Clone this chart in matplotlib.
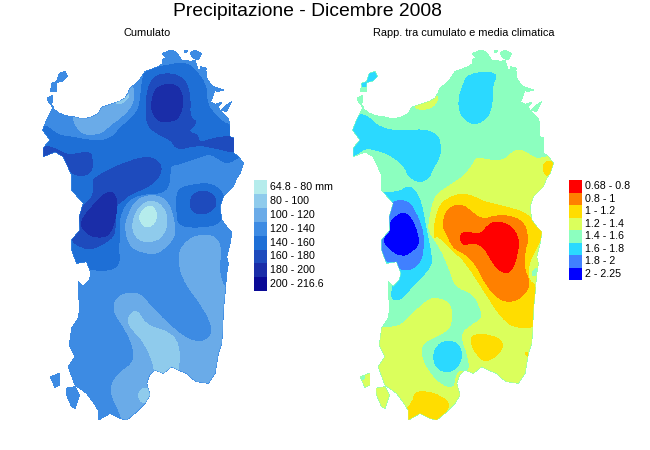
# -*- coding: utf-8 -*-
import matplotlib
matplotlib.use("Agg")
import matplotlib.pyplot as plt
from matplotlib.patches import PathPatch, Rectangle
from matplotlib.path import Path

plt.rcParams['font.family'] = ['Liberation Sans', 'DejaVu Sans']

# map outlines, in map units (y grows southwards)
coast = [(65,170),(75,180),(87,189),(100,195),(115,199),(130,200),(150,205),(170,205),(190,199),(205,190),(215,172),
         (250,160),(270,153),(285,145),(295,128),(300,115),(325,95),(345,65),(385,50),(400,40),(397,28),(408,25),
         (397,10),(425,0),(438,6),(445,15),(455,30),(470,30),(482,36),(495,30),(505,60),(518,58),(530,65),(528,80),
         (540,100),(548,108),(555,120),(550,135),(545,150),(525,155),(545,158),(560,165),(570,182),(580,190),(595,205),
         (600,230),(600,260),(612,265),(612,310),(625,320),(640,340),(630,370),(620,385),(610,410),(595,425),(580,440),
         (570,470),(575,510),(590,530),(605,545),(605,550),(600,580),(590,620),(595,640),(590,670),(585,730),(580,780),
         (578,840),(575,880),(565,910),(560,940),(555,970),(535,1000),(515,997),(500,995),(485,985),(470,970),(445,960),
         (425,950),(400,970),(375,960),(358,975),(350,1000),(360,1035),(345,1060),(320,1085),(290,1110),(270,1105),
         (240,1090),(205,1110),(205,1080),(185,1050),(170,1030),(135,1005),(115,950),(135,920),(118,885),(125,835),
         (145,805),(150,770),(145,735),(145,695),(160,710),(178,690),(183,670),(170,635),(140,640),(125,600),(125,570),
         (150,540),(148,500),(160,460),(125,420),(125,375),(100,320),(75,305),(60,312),(40,320),(40,295),(60,270),(38,240),
         (50,210),(70,170),(58,160),(52,145),(68,135)]
islands = [
    [(65,100),(80,95),(88,70),(105,65),(112,80),(100,92),(80,98),(78,125),(62,125)],
    [(480,10),(495,0),(515,10),(505,30),(490,25)],
    [(462,0),(472,0),(470,8),(463,8)],
    [(510,50),(530,55),(520,70)],
    [(550,110),(580,120),(560,125)],
    [(520,155),(545,150),(535,160)],
    [(560,160),(575,158),(565,170)],
    [(590,165),(605,155),(590,185),(575,180)],
    [(60,980),(90,970),(90,1005),(75,1012),(65,990)],
    [(108,1015),(135,1010),(148,1035),(135,1075),(125,1070),(110,1035)],
]

# Cumulato contours, drawn in this order over the 120-140 base
cum_140_main = [(0,640),(120,640),(190,662),(250,660),(270,635),(265,600),(270,540),(265,510),(290,450),(340,430),
                (400,430),(420,400),(420,345),(440,345),(510,320),(545,310),(590,345),(625,320),(700,300),(700,235),
                (595,230),(555,195),(530,160),(530,110),(505,70),(470,35),(400,48),(345,60),(335,100),(330,170),
                (310,200),(270,235),(245,265),(200,275),(130,262),(80,255),(50,225),(0,230)]
cum_140_east = [(440,420),(480,405),(550,398),(590,445),(575,520),(520,532),(445,530),(440,480)]
cum_160_north = [(370,80),(415,68),(465,85),(482,140),(478,205),(505,215),(470,245),(505,255),(505,280),(550,265),
                 (600,258),(640,265),(640,315),(540,290),(500,285),(440,300),(425,270),(380,250),(350,225),
                 (348,170),(352,120)]
cum_160_nw = [(30,330),(30,295),(60,288),(100,310),(120,315),(175,305),(188,320),(185,375),(125,378),(100,320),(75,305)]
cum_160_band = [(190,380),(340,315),(390,335),(395,365),(378,392),(345,415),(300,432),(280,450),(252,470),(258,545),
                (240,570),(190,597),(158,595),(120,570),(140,540),(140,505),(160,465),(190,440),(190,410)]
cum_160_east = [(525,420),(558,440),(558,475),(510,498),(478,475),(485,432)]
cum_180_north = [(365,150),(380,108),(440,100),(462,145),(450,200),(425,215),(385,215),(365,185)]
cum_180_sw = [(150,515),(190,465),(235,420),(262,440),(258,505),(240,550),(220,562),(185,560),(160,540)]
cum_100_nw = [(125,195),(140,235),(165,255),(215,250),(240,225),(270,205),(305,170),(315,125),(300,100),(280,130),
              (215,160),(170,195)]
cum_80_nw = [(255,160),(285,145),(300,130),(290,150),(270,162)]
cum_100_mid = [(285,540),(290,505),(318,448),(372,432),(415,455),(432,510),(436,555),(414,585),(380,612),(338,608),
               (300,590)]
cum_80_mid = [(306,515),(332,462),(372,450),(406,478),(412,522),(400,555),(376,574),(338,576),(312,555)]
cum_64_mid = [(328,490),(362,462),(382,490),(375,520),(350,535),(330,515)]
cum_100_south = [(445,640),(450,595),(490,558),(545,553),(575,585),(565,670),(590,730),(700,730),(700,1150),(280,1150),
                 (275,1095),(235,1020),(265,970),(305,945),(316,910),(290,840),(245,780),(265,735),(322,725),(355,760),
                 (410,820),(480,875),(530,875),(552,840),(520,770),(465,700)]
cum_80_south = [(290,805),(320,775),(345,825),(415,845),(447,880),(448,950),(440,990),(370,990),(375,950),(340,870),(305,838)]
cum_80_bay = [(325,1025),(350,1010),(368,1035),(352,1060),(328,1054)]

# Rapporto contours, drawn in this order over the 1.4-1.6 base
rap_12_main = [(720,318),(620,318),(590,330),(550,300),(520,302),(490,335),(430,328),(410,322),(395,350),(370,380),
               (340,400),(300,425),(280,450),(268,510),(265,545),(300,590),(330,660),(345,710),(400,730),(420,770),
               (430,805),(395,825),(360,855),(385,915),(390,970),(350,960),(345,1020),(300,1005),(260,960),(240,910),
               (250,875),(300,855),(335,830),(335,765),(300,745),(270,745),(235,775),(200,810),(170,835),(0,835),
               (0,1150),(720,1150)]
rap_12_bay = [(225,165),(270,155),(295,132),(290,160),(265,178),(230,178)]
rap_16_north = [(385,70),(475,65),(455,110),(460,130),(450,195),(415,222),(388,220),(360,192),(355,150),(368,108)]
rap_16_nw = [(65,180),(120,238),(200,243),(250,238),(290,252),(302,280),(300,322),(276,358),(268,385),(235,398),
             (202,375),(197,352),(165,322),(110,298),(70,295),(55,312),(0,330),(0,240)]
rap_16_isle = [(60,105),(85,60),(115,60),(115,85),(85,100),(78,112)]
rap_16_sw = [(100,425),(175,428),(205,408),(225,420),(245,460),(258,540),(278,630),(265,660),(215,710),(180,752),
             (150,745),(165,690),(100,640),(50,560),(60,430)]
rap_16_south = [(322,872),(355,880),(368,920),(350,955),(320,968),(290,955),(278,920),(292,885)]
rap_18_sw = [(145,468),(165,452),(203,452),(228,488),(248,540),(250,570),(248,625),(217,660),(175,658),(170,635),
             (135,635),(122,600),(100,565),(145,540),(145,500)]
rap_2_sw = [(145,520),(190,482),(218,510),(235,560),(236,585),(208,610),(185,618),(158,605),(125,570),(158,540)]
rap_1_main = [(282,570),(282,528),(298,465),(330,442),(365,430),(402,440),(432,456),(480,466),(565,490),(595,538),
              (615,545),(590,590),(565,640),(570,680),(590,720),(590,780),(595,830),(530,835),(488,808),(438,732),
              (375,632),(338,603),(290,552)]
rap_12_east = [(600,620),(570,640),(565,680),(585,705),(610,660)]
rap_14_east = [(575,665),(595,650),(595,670),(580,680)]
rap_14_isle = [(50,975),(78,975),(70,990),(50,990)]
rap_1_ne = [(625,330),(655,342),(622,385),(605,350)]
rap_1_south = [(390,875),(402,852),(452,855),(490,875),(484,905),(440,938),(412,918)]
rap_1_sw = [(225,1027),(260,1024),(302,1038),(335,1065),(290,1120),(190,1120),(195,1080),(218,1058)]
rap_1_tiny = [(555,905),(575,915),(560,922)]
rap_08_main = [(308,530),(316,485),(345,464),(372,466),(398,490),(430,510),(470,495),(522,500),(555,522),(565,570),
               (554,600),(552,660),(570,695),(558,730),(520,756),(478,750),(436,702),(408,642),(373,608),(338,594),
               (316,540)]
rap_068_main = [(366,548),(390,548),(425,553),(442,526),(470,514),(510,525),(535,560),(536,600),(513,672),(478,664),
                (452,627),(430,588),(400,578),(368,586),(360,565)]

# legends
cum_labels = ['64.8 - 80 mm', '80 - 100', '100 - 120', '120 - 140', '140 - 160', '160 - 180', '180 - 200', '200 - 216.6']
cum_colors = ['#B5ECEC', '#8FCBEC', '#6AABE8', '#3D8BE3', '#1E6FD6', '#1E4BBD', '#1A2DA8', '#0A0A96']
rap_labels = ['0.68 - 0.8', '0.8 - 1', '1 - 1.2', '1.2 - 1.4', '1.4 - 1.6', '1.6 - 1.8', '1.8 - 2', '2 - 2.25']
rap_colors = ['#FF0000', '#FF8000', '#FFDD00', '#DBFF5C', '#8CFFBF', '#2BD9FF', '#4080FF', '#0000FF']

cum_layers = [(cum_100_nw, cum_colors[2]), (cum_80_nw, cum_colors[1]), (cum_140_main, cum_colors[4]),
              (cum_140_east, cum_colors[4]), (cum_100_south, cum_colors[2]), (cum_80_south, cum_colors[1]),
              (cum_80_bay, cum_colors[1]), (cum_160_north, cum_colors[5]), (cum_160_nw, cum_colors[5]),
              (cum_160_band, cum_colors[5]), (cum_160_east, cum_colors[5]), (cum_180_north, cum_colors[6]),
              (cum_180_sw, cum_colors[6]), (cum_100_mid, cum_colors[2]), (cum_80_mid, cum_colors[1]),
              (cum_64_mid, cum_colors[0])]
rap_layers = [(rap_12_main, rap_colors[3]), (rap_12_bay, rap_colors[3]), (rap_16_north, rap_colors[5]),
              (rap_16_nw, rap_colors[5]), (rap_16_isle, rap_colors[5]), (rap_16_sw, rap_colors[5]),
              (rap_16_south, rap_colors[5]), (rap_18_sw, rap_colors[6]), (rap_2_sw, rap_colors[7]),
              (rap_1_main, rap_colors[2]), (rap_12_east, rap_colors[3]), (rap_14_east, rap_colors[4]),
              (rap_14_isle, rap_colors[4]), (rap_1_ne, rap_colors[2]), (rap_1_south, rap_colors[2]),
              (rap_1_sw, rap_colors[2]), (rap_1_tiny, rap_colors[2]), (rap_08_main, rap_colors[1]),
              (rap_068_main, rap_colors[0])]


def land_path():
    parts = []
    for outline in [coast] + islands:
        parts.append(Path(outline + [outline[0]], closed=True))
    return Path.make_compound_path(*parts)


def rounded_path(outline):
    # closed curve using the outline points as quadratic control points
    n = len(outline)
    mids = [((outline[i][0] + outline[(i + 1) % n][0]) / 2, (outline[i][1] + outline[(i + 1) % n][1]) / 2)
            for i in range(n)]
    verts = [mids[-1]]
    codes = [Path.MOVETO]
    for i in range(n):
        verts += [outline[i], mids[i]]
        codes += [Path.CURVE3, Path.CURVE3]
    return Path(verts, codes)


def draw_map(fig, left_px, base_color, layers):
    # one map unit is a third of a pixel
    ax = fig.add_axes([left_px / 650, 1 - 430 / 450, 250 / 650, 400 / 450])
    ax.set_xlim(-30, 720)
    ax.set_ylim(1140, -60)
    ax.axis('off')
    land = PathPatch(land_path(), facecolor=base_color, linewidth=0, antialiased=False)
    ax.add_patch(land)
    for outline, color in layers:
        shape = PathPatch(rounded_path(outline), facecolor=color, linewidth=0, antialiased=False)
        ax.add_patch(shape)
        shape.set_clip_path(land)


def draw_legend(overlay, left_px, step_px, labels, colors):
    for i in range(len(labels)):
        overlay.add_patch(Rectangle((left_px, 180 + i * step_px), 13, step_px, facecolor=colors[i],
                                    linewidth=0, antialiased=False))
        overlay.text(left_px + 16, 180 + (i + 0.5) * step_px, labels[i], fontsize=7.7, va='center', color='black')


fig = plt.figure(figsize=(6.5, 4.5), dpi=100)
draw_map(fig, 20, cum_colors[3], cum_layers)
draw_map(fig, 330, rap_colors[4], rap_layers)

overlay = fig.add_axes([0, 0, 1, 1])
overlay.set_xlim(0, 650)
overlay.set_ylim(450, 0)
overlay.axis('off')
overlay.patch.set_alpha(0)
overlay.text(307, 12, 'Precipitazione - Dicembre 2008', fontsize=13.9, ha='center', va='center')
overlay.text(147, 33, 'Cumulato', fontsize=7.9, ha='center', va='center')
overlay.text(464, 33, 'Rapp. tra cumulato e media climatica', fontsize=7.9, ha='center', va='center')
draw_legend(overlay, 254, 13.9, cum_labels, cum_colors)
draw_legend(overlay, 569, 12.5, rap_labels, rap_colors)

fig.savefig('out.png', dpi=100)
